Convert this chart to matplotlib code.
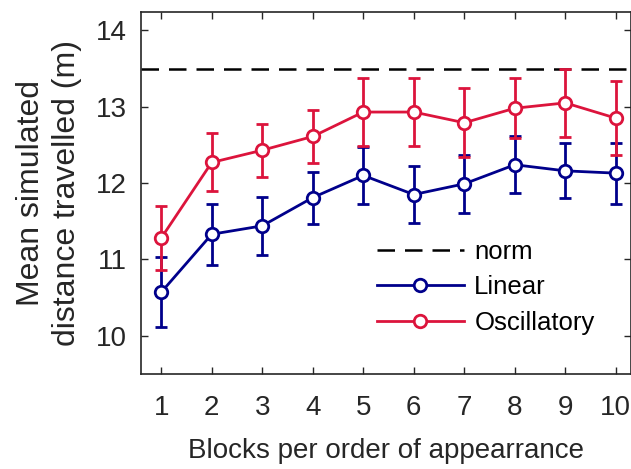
import numpy as np
import matplotlib.pyplot as plt
from matplotlib.lines import Line2D

plt.rcParams['font.family'] = ['Liberation Sans', 'DejaVu Sans']

blocks = [1, 2, 3, 4, 5, 6, 7, 8, 9, 10]
linear_mean = [10.57, 11.33, 11.44, 11.81, 12.10, 11.85, 11.99, 12.24, 12.16, 12.13]
linear_err = [0.46, 0.40, 0.38, 0.34, 0.37, 0.37, 0.38, 0.37, 0.36, 0.40]
osc_mean = [11.28, 12.27, 12.43, 12.61, 12.93, 12.93, 12.79, 12.98, 13.05, 12.85]
osc_err = [0.42, 0.38, 0.35, 0.35, 0.45, 0.45, 0.45, 0.39, 0.45, 0.48]
norm = 13.5

navy = '#00008B'
crimson = '#DC143C'
txt = '#262626'

fig = plt.figure(figsize=(6.31, 4.69), dpi=100)
ax = fig.add_axes([141 / 631, 1 - 374 / 469, 490 / 631, 362 / 469])

ax.axhline(norm, color='black', ls=(0, (7, 4)), lw=1.8)
style = dict(lw=2, marker='o', ms=9, mfc='white', mew=2, capsize=4.5,
             capthick=2.2, elinewidth=2)
ax.errorbar(blocks, linear_mean, yerr=linear_err, color=navy, **style)
ax.errorbar(blocks, osc_mean, yerr=osc_err, color=crimson, **style)

ax.set_xlim(0.6, 10.3)
ax.set_ylim(9.5, 14.24)
ax.set_xticks(blocks)
ax.set_yticks([10, 11, 12, 13, 14])
ax.tick_params(direction='in', top=True, right=True, labelsize=20,
               length=5, width=1, colors=txt, pad=10)
ax.tick_params(axis='x', pad=15)
for s in ax.spines.values():
    s.set_linewidth(1.2)
    s.set_color(txt)

ax.set_xlabel('Blocks per order of appearrance', fontsize=20, color=txt, labelpad=12)
ax.set_ylabel('Mean simulated\ndistance travelled (m)', fontsize=23, color=txt,
              labelpad=10, linespacing=1.25)

handles = [
    Line2D([], [], color='black', ls=(0, (7, 4)), lw=1.8),
    Line2D([], [], color=navy, lw=2, marker='o', ms=9, mfc='white', mew=2),
    Line2D([], [], color=crimson, lw=2, marker='o', ms=9, mfc='white', mew=2),
]
ax.legend(handles, ['norm', 'Linear', 'Oscillatory'], loc='lower left',
          bbox_to_anchor=(0.46, 0.08), frameon=False, fontsize=18.5,
          handlelength=3.4, labelspacing=0.45, handletextpad=0.4,
          borderaxespad=0)

fig.savefig('out.png', dpi=100)
